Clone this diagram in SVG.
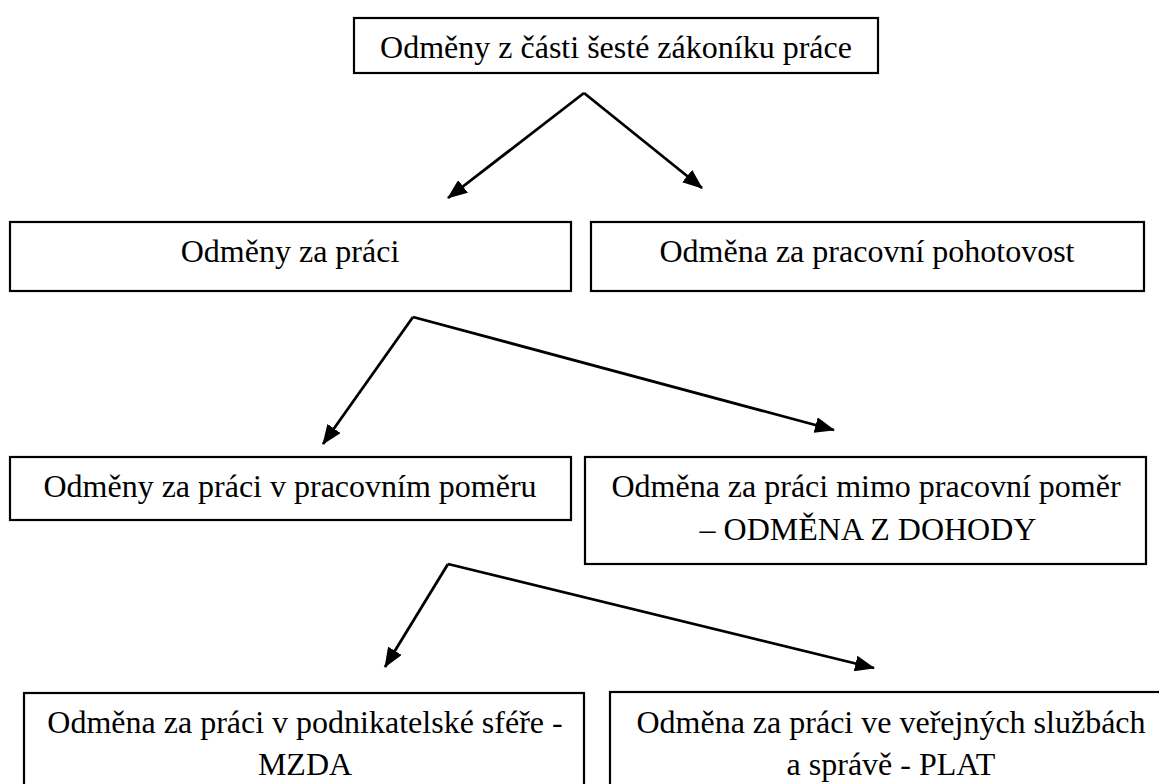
<svg xmlns="http://www.w3.org/2000/svg" width="1159" height="784" viewBox="0 0 1159 784">
<defs>
<style>
.box{fill:#fff;stroke:#000;stroke-width:2.2}
text{font-family:'Liberation Serif','Times New Roman','DejaVu Serif',serif;font-size:32px;fill:#000;text-anchor:middle}
.c{fill:none;stroke:#000;stroke-width:2.8}
</style>
<marker id="ah" viewBox="0 0 20 16" markerWidth="20" markerHeight="16" markerUnits="userSpaceOnUse" refX="19" refY="8" orient="auto">
<path d="M0,0 L20,8 L0,16 z" fill="#000"/>
</marker>
</defs>
<rect width="1159" height="784" fill="#fff"/>
<g id="connectors">
<line class="c" x1="584" y1="93" x2="448" y2="198" marker-end="url(#ah)"/>
<line class="c" x1="584" y1="93" x2="702" y2="188" marker-end="url(#ah)"/>
<line class="c" x1="413" y1="317" x2="323" y2="444" marker-end="url(#ah)"/>
<line class="c" x1="413" y1="317" x2="834" y2="430" marker-end="url(#ah)"/>
<line class="c" x1="448" y1="564" x2="385" y2="667" marker-end="url(#ah)"/>
<line class="c" x1="448" y1="564" x2="874" y2="668" marker-end="url(#ah)"/>
</g>
<g id="n-root">
<rect class="box" x="354" y="18" width="524" height="55"/>
<text x="616" y="58" font-family="Liberation Serif, serif">Odměny z části šesté zákoníku práce</text>
</g>
<g id="n-prace">
<rect class="box" x="10" y="222" width="561" height="69"/>
<text x="290" y="262" font-family="Liberation Serif, serif">Odměny za práci</text>
</g>
<g id="n-pohotovost">
<rect class="box" x="591" y="222" width="553" height="69"/>
<text x="867" y="262" font-family="Liberation Serif, serif">Odměna za pracovní pohotovost</text>
</g>
<g id="n-pomer">
<rect class="box" x="10" y="457" width="561" height="63"/>
<text x="290" y="497" font-family="Liberation Serif, serif">Odměny za práci v pracovním poměru</text>
</g>
<g id="n-dohoda">
<rect class="box" x="585" y="457" width="561" height="107"/>
<text x="866" y="497" font-family="Liberation Serif, serif">Odměna za práci mimo pracovní poměr</text>
<text x="868" y="540" font-family="Liberation Serif, serif">– ODMĚNA Z DOHODY</text>
</g>
<g id="n-mzda">
<rect class="box" x="24" y="693" width="560" height="120"/>
<text x="305" y="733" font-family="Liberation Serif, serif">Odměna za práci v podnikatelské sféře -</text>
<text x="305" y="775" font-family="Liberation Serif, serif">MZDA</text>
</g>
<g id="n-plat">
<rect class="box" x="610" y="692" width="562" height="120"/>
<text x="891" y="733" font-family="Liberation Serif, serif">Odměna za práci ve veřejných službách</text>
<text x="891" y="775" font-family="Liberation Serif, serif">a správě - PLAT</text>
</g>
</svg>
